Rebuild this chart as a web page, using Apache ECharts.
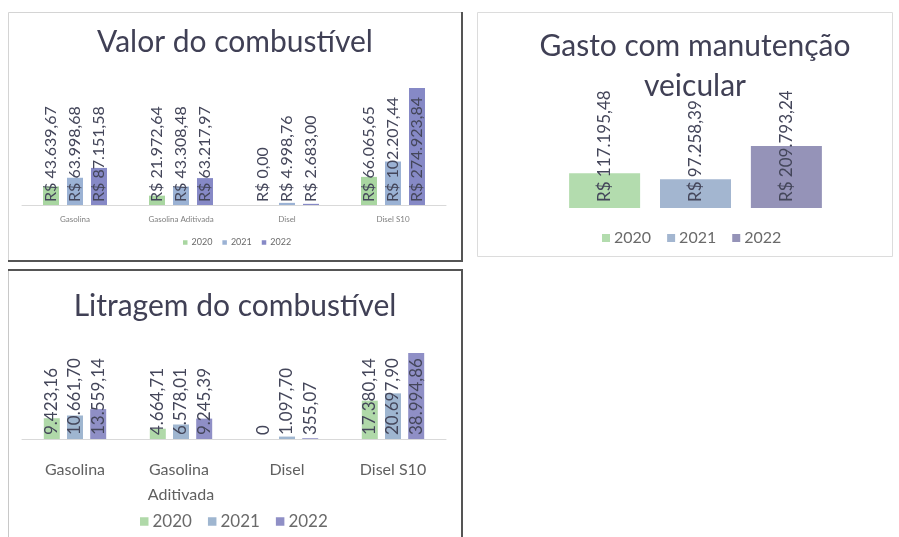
<!DOCTYPE html>
<html lang="pt-BR">
<head>
    <meta charset="UTF-8">
    <title>Combustível e manutenção</title>
    <style>
        html, body { margin: 0; padding: 0; background: #fff; }
    </style>
</head>
<body>
<script src="https://cdn.jsdelivr.net/npm/echarts@6/dist/echarts.min.js"></script>

<div id="main" style="width: 899px;height:537px;"></div>
<script type="text/javascript">

var categorias = ['Gasolina', 'Gasolina Aditivada', 'Disel', 'Disel S10'];
var anos = ['2020', '2021', '2022'];

// Valor do combustível (R$)
var valor2020 = [43639.67, 21972.64, 0, 66065.65];
var valor2021 = [63998.68, 43308.48, 4998.76, 102207.44];
var valor2022 = [87151.58, 63217.97, 2683.00, 274923.84];

// Gasto com manutenção veicular (R$), 2020 / 2021 / 2022
var manutencao = [117195.48, 97258.39, 209793.24];

// Litragem do combustível
var litros2020 = [9423.16, 4664.71, 0, 17380.14];
var litros2021 = [10661.70, 6578.01, 1097.70, 20697.90];
var litros2022 = [13559.14, 9245.39, 355.07, 38994.86];

var cores1 = ['#a9d6a1', '#9bb2d4', '#8689c6'];
var cores2 = ['#b3dcae', '#a3b6d0', '#9593b8'];
var cores3 = ['#b0d9a9', '#9fb6d0', '#8f8fc6'];

var fonte = 'Lato, "Open Sans", sans-serif';

// 1234.5 -> "1.234,50"
function br(v) {
    var p = v.toFixed(2).split('.');
    p[0] = p[0].replace(/\B(?=(\d{3})+(?!\d))/g, '.');
    return p[0] + ',' + p[1];
}

function rotulo(fmt, size, dist) {
    return {
        show: true,
        position: 'insideBottom',
        rotate: 90,
        align: 'left',
        verticalAlign: 'middle',
        distance: dist,
        fontFamily: fonte,
        fontSize: size,
        color: '#44465a',
        formatter: function (p) { return fmt(p.value); }
    };
}

function reais(v) { return 'R$ ' + br(v); }
function litros(v) { return v === 0 ? '0' : br(v); }

var myChart = echarts.init(document.getElementById('main'));

var valores = [valor2020, valor2021, valor2022];
var litragens = [litros2020, litros2021, litros2022];
var series = [];

for (var i = 0; i < anos.length; i++) {
    series.push({
        name: anos[i], type: 'bar', xAxisIndex: 0, yAxisIndex: 0,
        data: valores[i], barWidth: 16, barGap: '50%',
        itemStyle: {color: cores1[i]},
        label: rotulo(reais, 16, 3)
    });
}
for (var i = 0; i < anos.length; i++) {
    series.push({
        name: anos[i], type: 'bar', xAxisIndex: 1, yAxisIndex: 1,
        data: [manutencao[i]], barWidth: 71, barGap: '28%',
        itemStyle: {color: cores2[i]},
        label: rotulo(reais, 17, 6)
    });
}
for (var i = 0; i < anos.length; i++) {
    series.push({
        name: anos[i], type: 'bar', xAxisIndex: 2, yAxisIndex: 2,
        data: litragens[i], barWidth: 16, barGap: '45%',
        itemStyle: {color: cores3[i]},
        label: rotulo(litros, 17, 4)
    });
}

function legenda(cores, left, top, size, gap) {
    return {
        left: left, top: top, padding: 0,
        itemWidth: size * 0.5, itemHeight: size * 0.5, itemGap: gap,
        icon: 'rect',
        textStyle: {fontFamily: fonte, fontSize: size, color: '#6a6a6a', padding: [0, 0, 0, -1]},
        data: anos.map(function (a, k) { return {name: a, itemStyle: {color: cores[k]}}; })
    };
}

var tituloEstilo = {fontFamily: fonte, fontSize: 30, fontWeight: 'normal', color: '#404055'};

myChart.setOption({
    animation: false,
    backgroundColor: '#fff',
    graphic: [
        {type: 'rect', shape: {x: 8.5, y: 12.5, width: 453, height: 248}, style: {fill: 'none', stroke: '#d4d4d4', lineWidth: 1}},
        {type: 'polyline', shape: {points: [[8, 261], [462, 261], [462, 12]]}, style: {stroke: '#555', lineWidth: 2}},
        {type: 'rect', shape: {x: 477.5, y: 12.5, width: 415, height: 244}, style: {fill: 'none', stroke: '#dcdcdc', lineWidth: 1}},
        {type: 'rect', shape: {x: 8.5, y: 270.5, width: 453, height: 280}, style: {fill: 'none', stroke: '#c8c8c8', lineWidth: 1}},
        {type: 'polyline', shape: {points: [[8, 270], [462, 270], [462, 537]]}, style: {stroke: '#555', lineWidth: 2}}
    ],
    title: [
        {text: 'Valor do combustível', left: 235, top: 27, textAlign: 'center', padding: 0, textStyle: tituloEstilo},
        {text: 'Gasto com manutenção\nveicular', left: 695, top: 26, textAlign: 'center', padding: 0,
            textStyle: Object.assign({lineHeight: 40}, tituloEstilo)},
        {text: 'Litragem do combustível', left: 235, top: 291, textAlign: 'center', padding: 0, textStyle: tituloEstilo}
    ],
    legend: [
        legenda(cores1, 183, 238, 9, 10),
        legenda(cores2, 602, 230, 16, 16),
        legenda(cores3, 140, 513, 17, 16)
    ],
    grid: [
        {left: 22, top: 88, width: 424, height: 117},
        {left: 560, top: 146, width: 271, height: 62},
        {left: 22, top: 353, width: 424, height: 86}
    ],
    xAxis: [
        {type: 'category', gridIndex: 0, data: categorias,
            axisLine: {lineStyle: {color: '#d9d9d9'}}, axisTick: {show: false},
            axisLabel: {interval: 0, fontFamily: fonte, fontSize: 8, color: '#808080', margin: 10}},
        {type: 'category', gridIndex: 1, data: ['Manutenção'], show: false},
        {type: 'category', gridIndex: 2, data: categorias,
            axisLine: {lineStyle: {color: '#d9d9d9'}}, axisTick: {show: false},
            axisLabel: {interval: 0, fontFamily: fonte, fontSize: 16, color: '#606060', margin: 18,
                lineHeight: 25, width: 95, overflow: 'break'}}
    ],
    yAxis: [
        {type: 'value', gridIndex: 0, min: 0, max: 274923.84, show: false},
        {type: 'value', gridIndex: 1, min: 0, max: 209793.24, show: false},
        {type: 'value', gridIndex: 2, min: 0, max: 38994.86, show: false}
    ],
    series: series
});

</script>
</body>
</html>
